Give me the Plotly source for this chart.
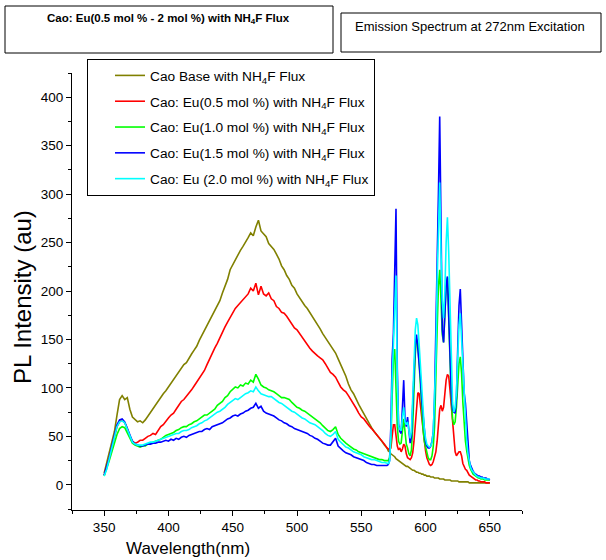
import plotly.graph_objects as go

# wavelength grid: 2 nm steps over the broad band, 1 nm steps over the Eu3+ lines
wavelength = list(range(350, 571, 2)) + list(range(571, 651))

base_nh4f = [
    12, 22, 35, 45, 55, 72, 88, 92, 88, 90,
    78, 70, 67, 65, 66, 64, 67, 71, 74, 78,
    82, 86, 90, 94, 97, 101, 104, 108, 113, 117,
    120, 124, 126, 131, 135, 139, 143, 149, 154, 160,
    164, 170, 175, 179, 184, 190, 198, 205, 212, 222,
    227, 232, 238, 242, 246, 250, 255, 260, 257, 266,
    273, 262, 259, 256, 249, 246, 243, 238, 233, 226,
    222, 216, 212, 206, 203, 197, 193, 188, 185, 182,
    178, 174, 170, 166, 161, 156, 152, 147, 143, 140,
    136, 130, 124, 118, 112, 104, 98, 94, 88, 83,
    78, 73, 68, 63, 59, 55, 52, 48, 45, 41,
    38,
    35, 34, 32, 31, 30, 29, 27, 26, 25, 24,
    23, 22, 21, 20, 19, 19, 18, 17, 16, 15,
    15, 14, 13, 13, 12, 12, 11, 11, 10, 10,
    9, 9, 9, 8, 8, 8, 7, 7, 7, 7,
    6, 6, 6, 6, 5, 5, 5, 5, 5, 4,
    4, 4, 4, 4, 4, 3, 3, 3, 3, 3,
    3, 3, 3, 2, 2, 2, 2, 2, 2, 2,
    2, 2, 2, 2, 2, 2, 2, 2, 2, 2,
]

eu_05 = [
    10, 18, 28, 38, 50, 60, 65, 67, 64, 58,
    50, 45, 43, 44, 46, 46, 48, 50, 51, 53,
    52, 56, 60, 62, 66, 69, 72, 74, 78, 82,
    86, 88, 91, 94, 98, 102, 106, 109, 113, 118,
    124, 130, 136, 141, 146, 152, 158, 163, 168, 173,
    178, 182, 185, 188, 191, 194, 197, 203, 200, 208,
    196, 205, 197, 195, 198, 192, 190, 184, 182, 178,
    177, 174, 170, 166, 162, 160, 156, 152, 149, 145,
    141, 138, 135, 133, 131, 129, 125, 120, 116, 114,
    111, 106, 101, 98, 96, 92, 88, 84, 79, 74,
    70, 68, 64, 61, 58, 55, 52, 49, 46, 42,
    38,
    37, 36, 38, 48, 62, 62, 52, 40, 36, 38,
    34, 37, 42, 40, 32, 28, 27, 26, 28, 33,
    45, 65, 85, 95, 94, 84, 70, 58, 45, 35,
    28, 24, 21, 20, 21, 24, 28, 34, 45, 62,
    78, 82, 76, 80, 95, 108, 114, 112, 98, 82,
    62, 45, 34, 30, 32, 34, 34, 30, 22, 18,
    16, 15, 12, 10, 9, 8, 7, 6, 5, 5,
    4, 4, 3, 3, 3, 3, 2, 2, 2, 2,
]

eu_10 = [
    9, 16, 25, 34, 44, 52, 58, 60, 59, 54,
    48, 43, 41, 40, 39, 40, 40, 42, 43, 44,
    45, 46, 47, 49, 51, 52, 53, 54, 56, 57,
    59, 60, 60, 62, 63, 65, 66, 68, 70, 72,
    72, 74, 76, 78, 82, 84, 86, 90, 92, 96,
    99, 101, 100, 103, 102, 105, 104, 108, 106, 114,
    109, 103, 101, 100, 98, 97, 96, 94, 92, 90,
    90, 89, 88, 85, 82, 80, 79, 77, 76, 74,
    72, 70, 68, 66, 64, 61, 58, 56, 55, 57,
    60, 52, 48, 45, 43, 41, 39, 37, 36, 34,
    33, 32, 31, 30, 29, 28, 27, 26, 26, 25,
    25,
    25, 28, 45, 90, 130, 140, 100, 60, 45, 42,
    43, 55, 68, 55, 42, 38, 32, 30, 36, 60,
    100, 135, 150, 146, 125, 100, 78, 58, 45, 38,
    33, 28, 26, 26, 30, 40, 60, 100, 160, 205,
    222, 190, 155, 147, 170, 205, 214, 180, 130, 90,
    68, 62, 65, 80, 105, 125, 132, 115, 85, 60,
    45, 35, 26, 20, 16, 13, 11, 10, 9, 8,
    7, 7, 6, 6, 6, 5, 5, 5, 5, 5,
]

eu_15 = [
    10, 18, 28, 40, 52, 62, 67, 68, 65, 58,
    50, 45, 42, 41, 40, 40, 41, 42, 42, 43,
    43, 44, 44, 45, 46, 45, 47, 46, 48, 47,
    49, 50, 49, 51, 52, 53, 54, 55, 55, 57,
    58, 57, 60, 61, 62, 63, 64, 66, 68, 69,
    71, 72, 71, 73, 74, 76, 77, 79, 80, 84,
    79, 81, 76, 74, 73, 72, 71, 69, 67, 66,
    64, 63, 61, 60, 58, 57, 56, 55, 54, 53,
    51, 50, 48, 47, 45, 43, 42, 41, 41, 44,
    48, 40, 37, 35, 33, 32, 31, 29, 28, 27,
    26, 25, 23, 22, 21, 21, 20, 20, 20, 20,
    20,
    21, 25, 60, 130, 157, 230, 285, 120, 62, 55,
    53, 80, 108, 68, 60, 70, 55, 43, 50, 80,
    115, 145, 155, 140, 127, 110, 88, 72, 55, 44,
    40, 38, 38, 40, 45, 55, 90, 150, 240, 300,
    380, 270, 160, 147, 185, 205, 215, 170, 122, 95,
    78, 75, 74, 90, 140, 185, 202, 170, 125, 95,
    84, 60, 36, 25, 20, 16, 14, 12, 11, 10,
    9, 9, 8, 8, 7, 7, 7, 6, 6, 5,
]

eu_20 = [
    9, 16, 27, 38, 50, 60, 65, 66, 64, 57,
    49, 44, 42, 41, 41, 41, 42, 43, 44, 44,
    45, 46, 47, 48, 49, 50, 51, 52, 53, 53,
    55, 56, 56, 57, 59, 60, 61, 63, 64, 66,
    67, 69, 71, 73, 75, 76, 78, 80, 83, 85,
    87, 89, 88, 90, 92, 94, 95, 97, 96, 101,
    97, 94, 93, 92, 91, 91, 89, 87, 85, 84,
    82, 80, 78, 76, 75, 73, 71, 69, 68, 66,
    64, 63, 62, 60, 58, 56, 53, 51, 50, 52,
    55, 47, 44, 41, 39, 38, 36, 34, 33, 32,
    31, 29, 28, 27, 26, 26, 25, 24, 23, 23,
    22,
    22, 24, 50, 110, 150, 190, 216, 110, 60, 57,
    56, 70, 80, 65, 62, 65, 55, 48, 55, 85,
    125, 160, 172, 165, 145, 120, 95, 75, 58, 48,
    42, 40, 39, 40, 44, 55, 85, 130, 210, 270,
    312, 240, 190, 172, 200, 250, 276, 240, 180, 120,
    85, 75, 80, 95, 130, 165, 177, 150, 115, 85,
    65, 45, 32, 24, 18, 15, 13, 11, 10, 9,
    8, 8, 7, 7, 7, 6, 6, 6, 6, 6,
]

series_names = [
    "Cao Base with NH<sub>4</sub>F Flux",
    "Cao: Eu(0.5 mol %) with NH<sub>4</sub>F Flux",
    "Cao: Eu(1.0 mol %) with NH<sub>4</sub>F Flux",
    "Cao: Eu(1.5 mol %) with NH<sub>4</sub>F Flux",
    "Cao: Eu (2.0 mol %) with NH<sub>4</sub>F Flux",
]
series_values = [base_nh4f, eu_05, eu_10, eu_15, eu_20]
series_colors = ["#808000", "#FF0000", "#00FF00", "#0000FF", "#00FFFF"]

x_ticks = [350, 400, 450, 500, 550, 600, 650]
y_ticks = [0, 50, 100, 150, 200, 250, 300, 350, 400]

FONT = "Liberation Sans, Arial, sans-serif"

fig = go.Figure()
for i, (name, vals, col) in enumerate(zip(series_names, series_values, series_colors)):
    fig.add_trace(go.Scatter(
        x=wavelength, y=vals, mode="lines", name=name,
        line=dict(color=col, width=1.6), legendgroup=f"g{i}",
    ))

# plot area: x 72..522 px, y 73..510 px
L, R, T, B = 72, 522, 73, 510
W, H = R - L, B - T


def px(x):
    return (x - L) / W


def py(y):
    return (B - y) / H


fig.update_layout(
    width=606, height=560,
    margin=dict(l=L, r=606 - R, t=T, b=560 - B, pad=0),
    paper_bgcolor="white", plot_bgcolor="white",
    font=dict(family=FONT, size=13.5, color="black"),
    showlegend=True,
    legend=dict(
        x=px(87), y=py(59), xanchor="left", yanchor="top",
        bordercolor="black", borderwidth=1, bgcolor="white",
        font=dict(family=FONT, size=13.7, color="black"),
        traceorder="grouped", tracegroupgap=5,
        itemwidth=30, indentation=22,
    ),
    xaxis=dict(
        range=[325, 675], showgrid=False, zeroline=False,
        showline=True, linecolor="black", linewidth=1,
        ticks="outside", ticklen=5, tickwidth=1, tickcolor="black",
        tickvals=x_ticks, ticktext=[str(v) for v in x_ticks],
        tickfont=dict(family=FONT, size=13.5),
        minor=dict(ticks="outside", ticklen=3, tickwidth=1, tickcolor="black", dtick=25, tick0=325),
    ),
    yaxis=dict(
        range=[-26, 425], showgrid=False, zeroline=False,
        showline=True, linecolor="black", linewidth=1,
        ticks="outside", ticklen=5, tickwidth=1, tickcolor="black",
        tickvals=y_ticks, ticktext=[str(v) for v in y_ticks],
        tickfont=dict(family=FONT, size=13.5),
        minor=dict(ticks="outside", ticklen=3, tickwidth=1, tickcolor="black", dtick=25, tick0=0),
    ),
)

shapes = [
    dict(type="rect", xref="paper", yref="paper",
         x0=px(5), x1=px(333), y0=py(53), y1=py(6),
         line=dict(color="black", width=1), fillcolor="white", layer="above"),
    dict(type="rect", xref="paper", yref="paper",
         x0=px(341), x1=px(601), y0=py(52), y1=py(13),
         line=dict(color="black", width=1), fillcolor="white", layer="above"),
]
fig.update_layout(shapes=shapes)

fig.add_annotation(xref="paper", yref="paper", x=px(168), y=py(19),
                   text="<b>Cao: Eu(0.5 mol % - 2 mol %) with NH<sub>4</sub>F Flux</b>",
                   showarrow=False, font=dict(family=FONT, size=11.5, color="black"),
                   xanchor="center", yanchor="middle")
fig.add_annotation(xref="paper", yref="paper", x=px(470), y=py(27),
                   text="Emission Spectrum at 272nm Excitation",
                   showarrow=False, font=dict(family=FONT, size=13, color="black"),
                   xanchor="center", yanchor="middle")
fig.add_annotation(xref="paper", yref="paper", x=px(22), y=py(297),
                   text="PL Intensity (au)", textangle=-90,
                   showarrow=False, font=dict(family=FONT, size=24, color="black"),
                   xanchor="center", yanchor="middle")
fig.add_annotation(xref="paper", yref="paper", x=px(188), y=py(548),
                   text="Wavelength(nm)",
                   showarrow=False, font=dict(family=FONT, size=17, color="black"),
                   xanchor="center", yanchor="middle")

fig.write_html("out.html", config={"displayModeBar": False},
               post_script="document.body.style.margin='0px';")
